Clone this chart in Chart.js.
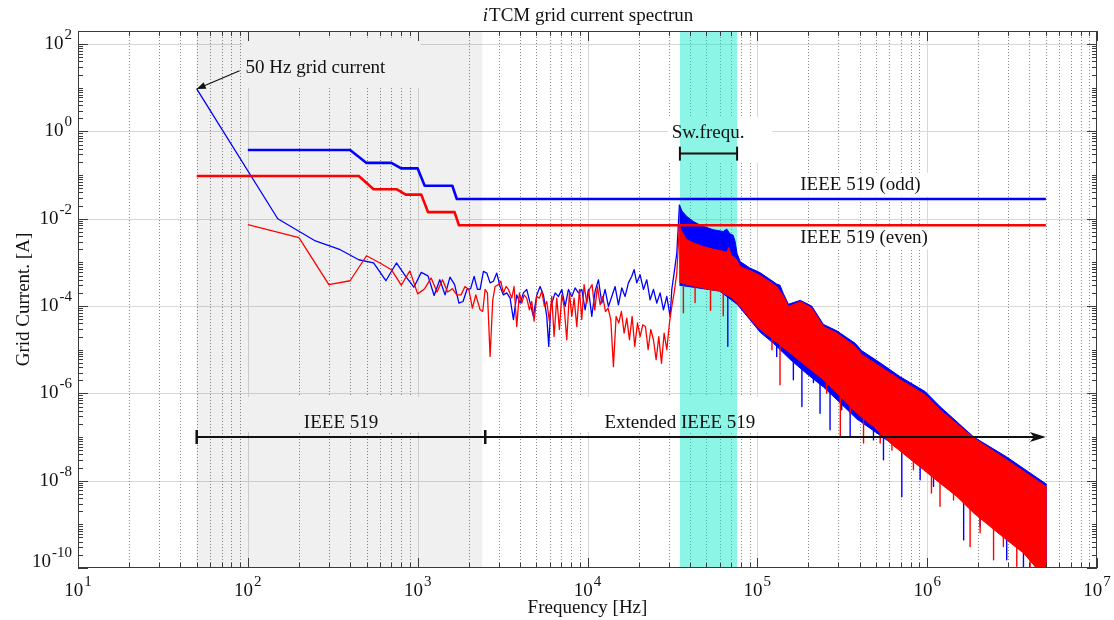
<!DOCTYPE html>
<html>
<head>
<meta charset="utf-8">
<title>iTCM grid current spectrun</title>
<script src="https://cdn.jsdelivr.net/npm/chart.js@4/dist/chart.umd.min.js"></script>
<style>
  html, body { margin: 0; padding: 0; background: #fff; }
  #caja { width: 1114px; height: 620px; }
</style>
</head>
<body>
<div id="caja"><canvas id="myChart" width="1114" height="620"></canvas></div>
<script>
// exponentes de las marcas con etiqueta
const ticksX = [1, 2, 3, 4, 5, 6, 7]
const ticksY = [-10, -8, -6, -4, -2, 0, 2]

// limites IEEE 519 (escalones)
const limAzulF = [100, 400, 500, 700, 800, 1000, 1100, 1600, 1700, 5e6]
const limAzulV = [0.375, 0.375, 0.19, 0.19, 0.142, 0.142, 0.057, 0.057, 0.0283, 0.0283]
const limRojoF = [50, 450, 550, 750, 850, 1050, 1150, 1650, 1750, 5e6]
const limRojoV = [0.095, 0.095, 0.0475, 0.0475, 0.0356, 0.0356, 0.0142, 0.0142, 0.0071, 0.0071]

// espectro azul hasta la frecuencia de conmutacion
const azulF = [50, 150, 250, 350, 450, 550, 650, 750, 850, 950, 1050, 1150, 1250, 1350, 1450, 1550, 1650, 1750, 1850, 1950, 2050, 2150, 2250,
  2331, 2439, 2552, 2670, 2793, 2922, 3057, 3198, 3347, 3501, 3663, 3832, 4010, 4195, 4388, 4592, 4804, 5026, 5259, 5502,
  5756, 5914, 6077, 6447, 6745, 7056, 7383, 7724, 8081, 8454, 8845, 9253, 9680, 10130, 10600, 11090, 11600, 12140, 12690, 13280,
  13900, 14540, 15210, 15920, 16650, 17420, 18230, 18810, 19510, 20410, 21350, 22340, 23370, 24450, 25580, 26770, 28010, 29300, 30660, 31360,
  32360, 33560, 34780]
const azulV = [9.4, 0.0100, 0.0031, 0.00195, 0.00115, 0.00097, 0.00038, 0.00097, 0.00048, 0.00027, 0.00059, 0.00049, 1.75e-4, 4.0e-4, 1.8e-4, 4.6e-4, 3.1e-4, 1.17e-4, 1.27e-4, 2.4e-4, 2.5e-4, 4.8e-4, 2.4e-4,
  2.4e-4, 6.2e-4, 5.7e-4, 3.4e-4, 3.7e-4, 5.7e-4, 2.8e-4, 1.8e-4, 2.0e-4, 1.52e-4, 4.9e-5, 1.8e-4, 1.17e-4, 2.0e-4, 2.4e-4, 1.17e-4, 5.8e-5, 1.8e-4, 2.8e-4, 1.8e-4,
  5.8e-5, 1.19e-5, 9.8e-5, 2.0e-4, 1.66e-4, 2.4e-4, 9.8e-5, 2.4e-4, 1.66e-4, 2.6e-4, 2.0e-4, 2.4e-4, 8.2e-5, 2.4e-4, 5.8e-5, 2.2e-4, 4.0e-4, 1.17e-4, 2.4e-4, 9.8e-5,
  1.66e-4, 2.8e-4, 1.07e-4, 2.6e-4, 1.66e-4, 3.4e-4, 4.8e-4, 6.8e-4, 3.4e-4, 5.2e-4, 2.4e-4, 4.0e-4, 1.39e-4, 2.4e-4, 1.17e-4, 2.0e-4, 8.2e-5, 1.66e-4, 5.8e-5, 2.4e-4,
  5.7e-4, 1.64e-3, 0.021]

// espectro rojo hasta la frecuencia de conmutacion
const rojoF = [100, 200, 300, 400, 500, 600, 700, 800, 900, 1000, 1100, 1200, 1300, 1400, 1500, 1600, 1700, 1800, 1900, 2000, 2100, 2200,
  2331, 2416, 2494, 2575, 2670, 2768, 2857, 2989, 3085, 3198, 3316, 3423, 3581, 3696, 3832, 3973, 4101, 4233, 4388, 4550,
  4697, 4848, 5026, 5211, 5379, 5577, 5756, 5968, 6160, 6358, 6592, 6834, 7056, 7282, 7550, 7829, 8081, 8340, 8647, 8966,
  9253, 9549, 9900, 10260, 10640, 11040, 11440, 11870, 12300, 12750, 13220, 13710, 14210, 14740, 15280, 15840, 16430, 17030, 17660, 18310,
  18980, 19690, 20410, 21160, 21940, 22750, 23590, 24450, 25360, 26290, 27260, 28260, 29300, 30380, 31360, 32360, 33560, 34780]
const rojoV = [0.0073, 0.0037, 3.1e-4, 3.8e-4, 1.42e-3, 9.7e-4, 6.8e-4, 3.0e-4, 6.4e-4, 1.9e-4, 2.5e-4, 4.4e-4, 2.1e-4, 4.0e-4, 2.1e-4, 2.5e-4, 1.8e-4, 1.8e-4, 2.8e-4, 2.4e-4, 9.0e-5, 1.8e-4,
  8.2e-5, 7.5e-5, 2.4e-4, 2.0e-4, 7.0e-6, 1.39e-4, 2.8e-4, 3.1e-4, 3.7e-4, 2.0e-4, 2.8e-4, 2.4e-4, 1.52e-4, 2.8e-4, 3.4e-5, 2.0e-4, 1.17e-4, 1.8e-4, 1.52e-4, 8.2e-5,
  1.27e-4, 4.5e-5, 1.66e-4, 1.52e-4, 2.2e-4, 9.8e-5, 1.27e-4, 4.5e-5, 1.66e-4, 2.0e-5, 1.52e-4, 2.9e-5, 1.8e-4, 9.8e-5, 1.69e-5, 2.0e-4, 5.8e-5, 1.52e-4, 3.4e-5, 2.4e-4,
  4.9e-5, 3.1e-4, 1.17e-4, 2.4e-4, 3.1e-4, 8.2e-5, 2.8e-4, 1.07e-4, 1.66e-4, 7.5e-5, 9.0e-5, 4.9e-5, 4.1e-6, 5.8e-5, 4.1e-5, 7.5e-5, 2.4e-5, 5.3e-5, 1.69e-5, 5.8e-5,
  1.19e-5, 4.1e-5, 2.0e-5, 3.7e-5, 3.4e-5, 1.0e-5, 2.9e-5, 1.69e-5, 5.9e-6, 2.0e-5, 4.9e-6, 2.4e-5, 1.0e-5, 4.1e-5, 9.8e-5, 2.0e-4, 5.7e-4, 7.3e-3]

// zona densa (desde 35 kHz): borde superior e inferior de cada color
const azulSupF = [34780, 36000, 38400, 41900, 45000, 48000, 55000, 63000, 66000, 69000, 72000, 74000, 76000, 79200, 90000, 104000, 130000, 136000, 142600, 152500,
  179000, 209000, 245000, 294000, 377000, 412000, 529000, 694000, 973000, 1.19e6, 1.88e6, 2.94e6, 5e6]
const azulSupV = [0.021, 0.015, 0.0113, 0.0087, 0.0075, 0.0067, 0.0056, 0.0051, 0.0058, 0.0045, 0.0042, 0.0030, 0.0016, 1.05e-3, 7.5e-4, 5.8e-4, 3.2e-4, 3.0e-4, 1.9e-4, 1.1e-4,
  1.35e-4, 1.0e-4, 3.8e-5, 2.7e-5, 1.4e-5, 9.5e-6, 5.0e-6, 2.4e-6, 1.1e-6, 5.0e-7, 1.0e-7, 3.5e-8, 8.5e-9]
const azulInfF = [34780, 60000, 76000, 90000, 104000, 124500, 156000, 195600, 245000, 308000, 385000, 483000, 606000, 759000, 951000, 1.19e6, 1.5e6, 1.88e6, 2.35e6, 2.94e6, 3.69e6, 4.62e6, 5e6]
const azulInfV = [3e-4, 2.2e-4, 1.1e-4, 5e-5, 2.5e-5, 1.4e-5, 6e-6, 2.8e-6, 1.4e-6, 6e-7, 2.6e-7, 1.4e-7, 7.5e-8, 3.7e-8, 1.85e-8, 9e-9, 4.5e-9, 1.9e-9, 9.5e-10, 4.6e-10, 2.3e-10, 8e-11, 8e-11]
const rojoSupF = [34780, 36000, 38400, 41900, 48000, 55000, 63000, 66000, 68000, 70000, 75000, 79200, 90000, 104000, 130000, 142600, 152500, 165000, 179000, 209000,
  245000, 294000, 377000, 412000, 529000, 694000, 973000, 1.19e6, 1.88e6, 2.94e6, 5e6]
const rojoSupV = [7.3e-3, 5e-3, 3.3e-3, 2.8e-3, 2.3e-3, 2.0e-3, 1.8e-3, 1.7e-3, 2.2e-3, 1.5e-3, 1.2e-3, 8.1e-4, 6.5e-4, 5.0e-4, 2.8e-4, 1.66e-4, 9.8e-5, 1.1e-4, 1.27e-4, 9.0e-5,
  3.4e-5, 2.4e-5, 1.19e-5, 7.7e-6, 4.1e-6, 2.05e-6, 9.3e-7, 4.2e-7, 9.5e-8, 3.0e-8, 7.4e-9]
const rojoInfF = [34780, 40000, 50000, 60000, 70000, 76000, 79200, 99300, 124500, 156000, 195600, 245000, 308000, 385000, 483000, 606000, 759000, 951000, 1.19e6, 1.5e6, 1.88e6, 2.35e6, 2.94e6, 3.69e6, 4.62e6, 5e6]
const rojoInfV = [3.5e-4, 3e-4, 2.5e-4, 2.2e-4, 1.6e-4, 1.2e-4, 9.8e-5, 3.4e-5, 1.69e-5, 8.4e-6, 4.1e-6, 2.05e-6, 8.5e-7, 3.5e-7, 1.75e-7, 7.3e-8, 3.6e-8, 1.78e-8, 8.8e-9, 4.3e-9, 1.81e-9, 8.9e-10, 4.4e-10, 2.2e-10, 8e-11, 8e-11]

// picos hacia abajo: frecuencia, valor donde nace y punta
const agujaRojaF = [36700, 43000, 53000, 63000, 122000, 136000, 256000, 308000, 352000, 422000, 529000, 620000, 830000, 1.06e6, 1.19e6, 1.43e6, 1.79e6, 2.05e6, 2.46e6, 2.81e6, 3.37e6, 4.04e6]
const agujaRojaDe = [3e-4, 3e-4, 2.5e-4, 2.5e-4, 3e-5, 2e-5, 3e-6, 1.5e-6, 8e-7, 4e-7, 2.5e-7, 1.2e-7, 4e-8, 2e-8, 1.5e-8, 8e-9, 3e-9, 2e-9, 1.5e-9, 1e-9, 5e-10, 3e-10]
const agujaRojaA = [7e-5, 1.2e-4, 8e-5, 6e-5, 1.0e-5, 1.57e-6, 1.0e-6, 1.03e-7, 3.5e-7, 7.3e-8, 7.3e-8, 5.0e-8, 1.78e-8, 5.2e-9, 2.6e-9, 3.6e-9, 3.1e-10, 6.4e-10, 1.54e-10, 3.1e-10, 1.1e-10, 8e-11]
const agujaAzulF = [67000, 130000, 163000, 183000, 214000, 234000, 268000, 314000, 352000, 483000, 553000, 709000, 909000, 1.09e6, 1.64e6, 2.05e6, 2.94e6, 3.69e6]
const agujaAzulDe = [3e-4, 2e-5, 8e-6, 8e-6, 5e-6, 3e-6, 2e-6, 1.2e-6, 8e-7, 2.5e-7, 2e-7, 8e-8, 4e-8, 2e-8, 6e-9, 3e-9, 1e-9, 5e-10]
const agujaAzulA = [1.2e-5, 7.0e-6, 2.05e-6, 5.0e-7, 1.77e-6, 3.5e-7, 1.47e-7, 4.2e-7, 1.03e-7, 8.6e-8, 3.0e-8, 4.3e-9, 1.05e-8, 7.4e-9, 4.4e-10, 8.9e-10, 1.54e-10, 8e-11]

// zonas sombreadas y rangos
const zonaIEEE = [50, 2400]
const zonaSw = [35000, 76000]
const flechaIEEE = { desde: 50, corte: 2500, hasta: 5e6, nivel: 1e-7 }

// textos: posicion en datos + caja blanca (offsets en px)
const notas = [
  { texto: '50 Hz grid current', f: 97, a: 28.8, alin: 'left', caja: [-3, -30, 175, 20] },
  { texto: 'Sw.frequ.', f: 51300, a: 0.93, alin: 'center', caja: [-40, -16, 64, 30] },
  { texto: 'IEEE 519 (odd)', f: 179000, a: 0.060, alin: 'left', caja: [-8, -12, 136, 12] },
  { texto: 'IEEE 519 (even)', f: 179000, a: 0.0037, alin: 'left', caja: [-8, -11, 142, 12] },
  { texto: 'IEEE 519', f: 354, a: 2.1e-7, alin: 'center', caja: [-97, -26, 78, 9] },
  { texto: 'Extended IEEE 519', f: 35000, a: 2.1e-7, alin: 'center', caja: [-102, -26, 92, 9] }
]

const AZUL = '#0000ff'
const ROJO = '#ff0000'
const FUENTE = '"Liberation Serif", "Times New Roman", serif'

const puntos = (fs, vs) => fs.map((f, i) => ({ x: f, y: vs[i] }))
// poligono: borde de arriba de ida y borde de abajo de vuelta
const banda = (fS, vS, fI, vI) => puntos(fS, vS).concat(puntos(fI, vI).reverse())
// segmentos verticales separados por huecos
const agujas = (fs, de, a) => fs.flatMap((f, i) => [{ x: f, y: de[i] }, { x: f, y: a[i] }, { x: f, y: null }])

function linea(ctx, x1, y1, x2, y2) {
  ctx.beginPath(); ctx.moveTo(x1, y1); ctx.lineTo(x2, y2); ctx.stroke()
}

// "10" con exponente
function potencia(ctx, exp, x, y, alin) {
  ctx.font = '19px ' + FUENTE
  const wb = ctx.measureText('10').width
  ctx.font = '15px ' + FUENTE
  const we = ctx.measureText(exp).width
  const x0 = alin === 'right' ? x - wb - we - 1 : x - (wb + we + 1) / 2
  ctx.textAlign = 'left'
  ctx.textBaseline = 'middle'
  ctx.font = '19px ' + FUENTE
  ctx.fillText('10', x0, y)
  ctx.font = '15px ' + FUENTE
  ctx.fillText(exp, x0 + wb + 1, y - 9)
}

const ejesMatlab = {
  id: 'ejesMatlab',
  beforeDatasetsDraw(chart) {
    const { ctx, chartArea: a, scales: { x, y } } = chart
    ctx.save()
    // rejilla mayor
    ctx.strokeStyle = '#d8d8d8'
    ctx.lineWidth = 1
    ticksX.forEach(e => {
      if (e <= 1 || e >= 7) return
      const px = Math.round(x.getPixelForValue(10 ** e)) + 0.5
      linea(ctx, px, a.top, px, a.bottom)
    })
    ticksY.forEach(e => {
      if (e <= -10) return
      const py = Math.round(y.getPixelForValue(10 ** e)) + 0.5
      linea(ctx, a.left, py, a.right, py)
    })
    // rejilla menor punteada en x
    ctx.strokeStyle = '#8a8a8a'
    ctx.setLineDash([1, 2])
    for (let e = 1; e < 7; e++) {
      for (let k = 2; k <= 9; k++) {
        const px = Math.round(x.getPixelForValue(k * 10 ** e)) + 0.5
        linea(ctx, px, a.top, px, a.bottom)
      }
    }
    ctx.setLineDash([])
    // cajas de fondo de los textos
    ctx.fillStyle = '#ffffff'
    notas.forEach(n => {
      const px = x.getPixelForValue(n.f), py = y.getPixelForValue(n.a)
      const c = n.caja
      ctx.fillRect(px + c[0], py + c[1], c[2] - c[0], c[3] - c[1])
    })
    // zonas sombreadas
    const x1 = x.getPixelForValue(zonaIEEE[0]), x2 = x.getPixelForValue(zonaIEEE[1])
    ctx.fillStyle = 'rgba(0, 0, 0, 0.06)'
    ctx.fillRect(x1, a.top + 1, x2 - x1, a.bottom - a.top - 1)
    const s1 = x.getPixelForValue(zonaSw[0]), s2 = x.getPixelForValue(zonaSw[1])
    ctx.fillStyle = 'rgba(0, 232, 200, 0.45)'
    ctx.fillRect(s1, a.top + 1, s2 - s1, a.bottom - a.top - 1)
    ctx.restore()
  },
  afterDatasetsDraw(chart) {
    const { ctx, chartArea: a, scales: { x, y } } = chart
    ctx.save()
    // marco y marcas hacia adentro
    ctx.strokeStyle = '#3a3a3a'
    ctx.lineWidth = 1
    ctx.strokeRect(a.left + 0.5, a.top + 0.5, a.right - a.left - 1, a.bottom - a.top - 1)
    for (let e = 1; e <= 7; e++) {
      for (let k = 1; k <= 9; k++) {
        const v = k * 10 ** e
        if (v > x.max * 1.0001) break
        const px = Math.round(x.getPixelForValue(v)) + 0.5
        const l = k === 1 ? 10 : 5
        linea(ctx, px, a.bottom, px, a.bottom - l)
        linea(ctx, px, a.top, px, a.top + l)
      }
    }
    for (let e = -10; e <= 2; e++) {
      for (let k = 1; k <= 9; k++) {
        const v = k * 10 ** e
        if (v > y.max) break
        const py = Math.round(y.getPixelForValue(v)) + 0.5
        const l = (k === 1 && e % 2 === 0) ? 10 : 5
        linea(ctx, a.left, py, a.left + l, py)
        linea(ctx, a.right, py, a.right - l, py)
      }
    }
    // etiquetas de los ejes
    ctx.fillStyle = '#111'
    ticksX.forEach(e => potencia(ctx, String(e), x.getPixelForValue(10 ** e), a.bottom + 23))
    ticksY.forEach(e => {
      const py = Math.min(y.getPixelForValue(10 ** e), a.bottom - 6)
      potencia(ctx, String(e), a.left - 6, py, 'right')
    })
    ctx.font = '19px ' + FUENTE
    ctx.textAlign = 'center'
    ctx.textBaseline = 'middle'
    ctx.fillText('Frequency [Hz]', (a.left + a.right) / 2, a.bottom + 40)
    ctx.save()
    ctx.translate(24, (a.top + a.bottom) / 2)
    ctx.rotate(-Math.PI / 2)
    ctx.fillText('Grid Current. [A]', 0, 0)
    ctx.restore()
    // titulo con la i en cursiva
    ctx.textAlign = 'left'
    ctx.font = 'italic 19px ' + FUENTE
    const wi = ctx.measureText('i').width
    ctx.font = '19px ' + FUENTE
    const wr = ctx.measureText('TCM grid current spectrun').width
    const tx = (a.left + a.right) / 2 - (wi + wr) / 2
    ctx.font = 'italic 19px ' + FUENTE
    ctx.fillText('i', tx, 16)
    ctx.font = '19px ' + FUENTE
    ctx.fillText('TCM grid current spectrun', tx + wi + 1, 16)

    // textos de las anotaciones
    notas.forEach(n => {
      ctx.textAlign = n.alin
      ctx.fillText(n.texto, x.getPixelForValue(n.f), y.getPixelForValue(n.a))
    })

    ctx.strokeStyle = '#111'
    ctx.fillStyle = '#111'
    // flecha a la componente de 50 Hz
    const n50 = notas[0]
    const ax = x.getPixelForValue(n50.f) - 6, ay = y.getPixelForValue(n50.a) + 3
    const bx = x.getPixelForValue(azulF[0]), by = y.getPixelForValue(azulV[0])
    ctx.lineWidth = 1.2
    linea(ctx, ax, ay, bx, by)
    const ang = Math.atan2(by - ay, bx - ax)
    ctx.beginPath()
    ctx.moveTo(bx, by)
    ctx.lineTo(bx - 9 * Math.cos(ang) + 3.5 * Math.sin(ang), by - 9 * Math.sin(ang) - 3.5 * Math.cos(ang))
    ctx.lineTo(bx - 9 * Math.cos(ang) - 3.5 * Math.sin(ang), by - 9 * Math.sin(ang) + 3.5 * Math.cos(ang))
    ctx.closePath()
    ctx.fill()

    // corchete de la frecuencia de conmutacion
    ctx.lineWidth = 2
    const sy = y.getPixelForValue(0.31)
    const sa = x.getPixelForValue(zonaSw[0]), sb = x.getPixelForValue(zonaSw[1])
    linea(ctx, sa, sy, sb, sy)
    linea(ctx, sa, sy - 7, sa, sy + 7)
    linea(ctx, sb, sy - 7, sb, sy + 7)

    // rangos IEEE 519 y extendido
    const fy = y.getPixelForValue(flechaIEEE.nivel)
    const f1 = x.getPixelForValue(flechaIEEE.desde)
    const f2 = x.getPixelForValue(flechaIEEE.corte)
    const f3 = x.getPixelForValue(flechaIEEE.hasta)
    linea(ctx, f1, fy, f3 - 6, fy)
    ctx.lineWidth = 2.5
    linea(ctx, f1, fy - 7, f1, fy + 7)
    linea(ctx, f2, fy - 7, f2, fy + 7)
    ctx.beginPath()
    ctx.moveTo(f3, fy)
    ctx.lineTo(f3 - 16, fy - 5)
    ctx.lineTo(f3 - 12, fy)
    ctx.lineTo(f3 - 16, fy + 5)
    ctx.closePath()
    ctx.fill()
    ctx.restore()
  }
}

const ctx = document.getElementById('myChart')

new Chart(ctx, {
  type: 'line',
  data: {
    datasets: [
      { data: puntos(limRojoF, limRojoV), borderColor: ROJO, borderWidth: 2.6, order: 1 },
      { data: puntos(limAzulF, limAzulV), borderColor: AZUL, borderWidth: 2.6, order: 2 },
      { data: puntos(rojoF, rojoV), borderColor: ROJO, borderWidth: 1.3, order: 3 },
      { data: agujas(agujaRojaF, agujaRojaDe, agujaRojaA), borderColor: ROJO, borderWidth: 1.4, borderCapStyle: 'butt', order: 3.5 },
      { data: banda(rojoSupF, rojoSupV, rojoInfF, rojoInfV), borderColor: ROJO, backgroundColor: ROJO, borderWidth: 1, fill: 'shape', order: 4 },
      { data: puntos(azulF, azulV), borderColor: AZUL, borderWidth: 1.3, order: 5 },
      { data: agujas(agujaAzulF, agujaAzulDe, agujaAzulA), borderColor: AZUL, borderWidth: 1.4, borderCapStyle: 'butt', order: 5.5 },
      { data: banda(azulSupF, azulSupV, azulInfF, azulInfV), borderColor: AZUL, backgroundColor: AZUL, borderWidth: 1, fill: 'shape', order: 6 }
    ]
  },
  options: {
    responsive: false,
    animation: false,
    events: [],
    layout: { padding: { left: 78, right: 17, top: 31, bottom: 52 } },
    elements: { point: { radius: 0 }, line: { tension: 0, borderJoinStyle: 'round' } },
    datasets: { line: { clip: 0 } },
    plugins: { legend: { display: false }, tooltip: { enabled: false }, title: { display: false } },
    scales: {
      x: { type: 'logarithmic', min: 10, max: 1e7, display: false },
      y: { type: 'logarithmic', min: 1e-10, max: Math.pow(10, 2.3), display: false }
    }
  },
  plugins: [ejesMatlab]
})
</script>
</body>
</html>
